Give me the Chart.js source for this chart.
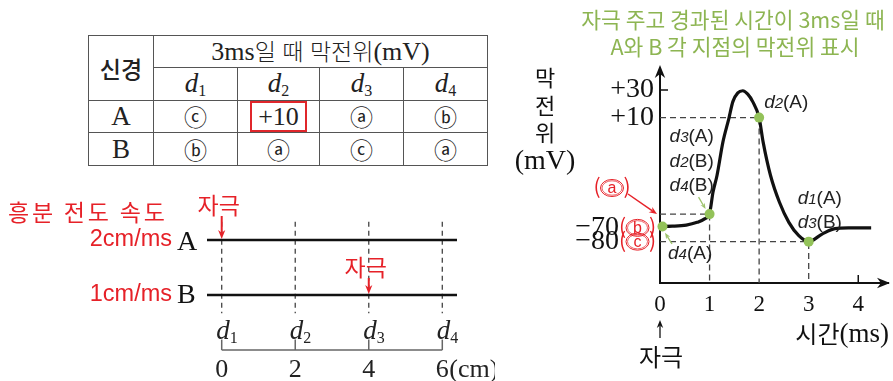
<!DOCTYPE html>
<html lang="ko">
<head>
<meta charset="utf-8">
<title>흥분 전도와 막전위</title>
<script src="https://cdn.jsdelivr.net/npm/chart.js@4.4.1/dist/chart.umd.min.js"></script>
<style>
  html, body { margin: 0; padding: 0; background: #fff; }
  body { position: relative; width: 893px; height: 381px; overflow: hidden; }
  canvas { position: absolute; }
  #nerveCanvas { left: 0; top: 180px; }
  #mpCanvas { left: 495px; top: 0; }
  #resultTable { position: absolute; left: 88px; top: 35px; width: 399px; border-collapse: collapse; table-layout: fixed; color: #222; font-family: "Liberation Serif", serif; }
  #resultTable td { border: 1.5px solid #555; text-align: center; vertical-align: middle; padding: 0; line-height: 1; }
  .kr { font-family: "Noto Sans CJK KR", sans-serif; }
  .circ { font-family: "Noto Sans CJK KR", sans-serif; font-size: 23px; }
  .site { font-size: 27px; }
  .site sub { font-size: 16px; vertical-align: -4px; }
  .hot { display: inline-block; width: 53px; height: 27px; line-height: 28px; border: 2px solid #e0262b; font-size: 26px; }
</style>
</head>
<body>
<table id="resultTable"></table>
<canvas id="nerveCanvas" width="495" height="201"></canvas>
<canvas id="mpCanvas" width="398" height="381"></canvas>
<script>
// 신경 A, B의 지점(cm)과 흥분 전도 속도
const sitePositions = [0, 2, 4, 6];
const siteNames = ['1', '2', '3', '4'];
const nerveNames = ['A', 'B'];
const nerveLevels = [2, 1];
const nerveSpeeds = ['2cm/ms', '1cm/ms'];
const stimulusSite = [0, 4];

// 3ms일 때 막전위 표
const potentialsA = ['ⓒ', '+10', 'ⓐ', 'ⓑ'];
const potentialsB = ['ⓑ', 'ⓐ', 'ⓒ', 'ⓐ'];

// 막전위 변화 곡선 (ms, mV)
const timeMs =      [0,   0.25, 0.53, 0.75, 0.9,   1.0,   1.07, 1.15, 1.27, 1.39, 1.47, 1.57, 1.67, 1.77, 1.87, 2.0, 2.08, 2.23, 2.41,  2.6, 2.8,   3.0, 3.27,  3.53,  3.8,  4.26];
const potentialMv = [-69, -68.8, -68, -66,  -63.5, -59.5, -44,  -32,  -7.6, 9.5,  21.6, 28,   29.5, 27,   21.6, 10,  -7.6, -32,  -51.4, -66, -75.7, -80, -74.5, -70.5, -70, -70];

// 3ms일 때 각 지점의 막전위 (녹색 점, 점선)
const markTimes = [0.05, 1, 2, 3];
const markValues = [-69, -60, 10, -80];
const guideTimes = [1, 2, 3];
const guideValues = [-60, 10, -80];
const xTickValues = [0, 1, 2, 3, 4];
const yTickValues = [30, 10, -70, -80];
const yTickText = ['+30', '+10', '−70', '−80'];
const yRedMarks = ['', '', 'b', 'c'];

const RED = '#e62128';
const GREEN = '#8db552';
const DOT = '#93c259';
const KR = '"Noto Sans CJK KR", sans-serif';
const SERIF = '"Liberation Serif", serif';
const SANS = '"Liberation Sans", Arial, sans-serif';

// Table
const table = document.getElementById('resultTable');
const colW = [65, 84, 82, 84, 84];
let html = '<colgroup>' + colW.map(w => `<col style="width:${w}px">`).join('') + '</colgroup>';
html += `<tr style="height:32px"><td rowspan="2" class="kr" style="font-size:23px;font-weight:500">신경</td>` +
        `<td colspan="4" style="font-size:26px">3ms<span class="kr" style="font-size:23px;font-weight:300">일 때 막전위</span>(mV)</td></tr>`;
html += '<tr style="height:33px">' + siteNames.map(n => `<td class="site"><i>d</i><sub>${n}</sub></td>`).join('') + '</tr>';
[potentialsA, potentialsB].forEach((row, r) => {
    html += `<tr style="height:${r ? 33 : 32}px"><td style="font-size:27px">${nerveNames[r]}</td>` +
        row.map(v => v.startsWith('+') ? `<td><span class="hot">${v}</span></td>` : `<td class="circ">${v}</td>`).join('') + '</tr>';
});
table.innerHTML = html;

function arrow(ctx, x1, y1, x2, y2, color, width, head) {
    const a = Math.atan2(y2 - y1, x2 - x1);
    const c = Math.cos(a), s = Math.sin(a);
    ctx.save();
    ctx.strokeStyle = color; ctx.fillStyle = color; ctx.lineWidth = width;
    ctx.beginPath(); ctx.moveTo(x1, y1); ctx.lineTo(x2 - c * head * 0.7, y2 - s * head * 0.7); ctx.stroke();
    ctx.beginPath();
    ctx.moveTo(x2, y2);
    ctx.lineTo(x2 - head * c + head * 0.4 * s, y2 - head * s - head * 0.4 * c);
    ctx.lineTo(x2 - head * 0.7 * c, y2 - head * 0.7 * s);
    ctx.lineTo(x2 - head * c - head * 0.4 * s, y2 - head * s + head * 0.4 * c);
    ctx.closePath(); ctx.fill();
    ctx.restore();
}

// red "(ⓐ)" mark with an oval ring, centred at cx, cy
function redMark(ctx, cx, cy, letter) {
    ctx.save();
    ctx.fillStyle = RED; ctx.strokeStyle = RED;
    ctx.textBaseline = 'middle'; ctx.textAlign = 'center';
    ctx.font = `21px ${KR}`;
    ctx.fillText('(', cx - 15, cy - 1);
    ctx.fillText(')', cx + 15, cy - 1);
    ctx.lineWidth = 1;
    ctx.beginPath(); ctx.ellipse(cx, cy, 11.5, 8.5, 0, 0, Math.PI * 2); ctx.stroke();
    ctx.lineWidth = 0.7;
    ctx.beginPath(); ctx.ellipse(cx, cy, 10, 7.2, 0, 0, Math.PI * 2); ctx.stroke();
    ctx.font = `16px ${SANS}`;
    ctx.fillText(letter, cx, cy + 0.5);
    ctx.restore();
}

const line = (data, color, width, dash) => ({
    data, showLine: true, borderColor: color, borderWidth: width, borderDash: dash || [],
    pointRadius: 0, clip: false
});

// Nerve diagram
const nerveDatasets = [];
nerveLevels.forEach(lv => nerveDatasets.push(line([{ x: -0.4, y: lv }, { x: 6.4, y: lv }], '#111', 2.5)));
sitePositions.forEach(p => {
    nerveDatasets.push(line([{ x: p, y: 2.33 }, { x: p, y: 0.67 }], '#444', 1.3, [5, 4]));
    nerveDatasets.push(line([{ x: p, y: 0 }, { x: p, y: 0.19 }], '#666', 1.5));
});
nerveDatasets.push(line([{ x: sitePositions[0], y: 0 }, { x: sitePositions[sitePositions.length - 1], y: 0 }], '#666', 1.5));

const nerveText = {
    id: 'nerveText',
    afterDraw(chart) {
        const { ctx, scales: { x, y } } = chart;
        ctx.save();
        ctx.textBaseline = 'middle';
        ctx.fillStyle = RED;
        ctx.font = `23px ${KR}`;
        ctx.textAlign = 'left';
        ctx.letterSpacing = '2.8px';
        ctx.fillText('흥분 전도 속도', 8, 32);
        ctx.letterSpacing = '0px';
        nerveNames.forEach((n, i) => {
            const yy = y.getPixelForValue(nerveLevels[i]);
            ctx.fillStyle = RED; ctx.font = `23.5px ${SANS}`; ctx.textAlign = 'right';
            ctx.fillText(nerveSpeeds[i], 172, yy);
            ctx.fillStyle = '#111'; ctx.font = `28px ${SERIF}`; ctx.textAlign = 'left';
            ctx.fillText(n, 177, yy + (i ? 1 : 3));
            // 자극
            const sx = x.getPixelForValue(stimulusSite[i]);
            ctx.fillStyle = RED; ctx.font = `23px ${KR}`; ctx.textAlign = 'center';
            const ty = i ? yy - 28 : yy - 35;
            ctx.fillText('자극', sx - 3, ty);
            arrow(ctx, sx, ty + 11, sx, yy - 1, RED, 2, 9);
        });
        ctx.fillStyle = '#222';
        sitePositions.forEach((p, i) => {
            const px = x.getPixelForValue(p);
            ctx.font = `italic 27px ${SERIF}`; ctx.textAlign = 'right';
            ctx.fillText('d', px + 8, y.getPixelForValue(0.33));
            ctx.font = `16px ${SERIF}`; ctx.textAlign = 'left';
            ctx.fillText(siteNames[i], px + 8, y.getPixelForValue(0.33) + 7);
            ctx.font = `26px ${SERIF}`; ctx.textAlign = 'center';
            ctx.fillText(String(p), px, y.getPixelForValue(-0.36));
            if (i === sitePositions.length - 1) {
                ctx.textAlign = 'left';
                ctx.fillText('(cm)', px + 7, y.getPixelForValue(-0.36));
            }
        });
        ctx.restore();
    }
};

new Chart(document.getElementById('nerveCanvas'), {
    type: 'scatter',
    data: { datasets: nerveDatasets },
    options: {
        responsive: false, animation: false, devicePixelRatio: 1,
        layout: { padding: { left: 207, right: 38, top: 5, bottom: 3.5 } },
        plugins: { legend: { display: false }, tooltip: { enabled: false } },
        scales: {
            x: { type: 'linear', min: -0.4, max: 6.4, display: false },
            y: { type: 'linear', min: -0.5, max: 3.0, display: false }
        }
    },
    plugins: [nerveText]
});

// Membrane potential chart
const mpDatasets = [
    Object.assign(line(markTimes.map((t, i) => ({ x: t, y: markValues[i] })), DOT, 0), {
        showLine: false, pointRadius: 5, pointBackgroundColor: DOT, pointBorderWidth: 0, order: 0
    }),
    Object.assign(line(timeMs.map((t, i) => ({ x: t, y: potentialMv[i] })), '#111', 3.2), {
        cubicInterpolationMode: 'monotone', order: 1
    })
];
guideTimes.forEach((t, i) => {
    mpDatasets.push(Object.assign(line([{ x: 0, y: guideValues[i] }, { x: t, y: guideValues[i] }, { x: t, y: -110 }], '#444', 1.3, [6, 4]), { order: 2 }));
});

function siteLabel(ctx, x, y, num, nerve) {
    ctx.textAlign = 'left';
    ctx.font = `italic 19px ${SANS}`;
    ctx.fillText('d', x, y);
    x += ctx.measureText('d').width;
    ctx.font = `italic 15px ${SANS}`;
    ctx.fillText(num, x, y + 1);
    x += ctx.measureText(num).width;
    ctx.font = `19px ${SANS}`;
    ctx.fillText(`(${nerve})`, x, y);
}

const mpFigure = {
    id: 'mpFigure',
    beforeDatasetsDraw(chart) {
        const { ctx, scales: { x, y } } = chart;
        const x0 = x.getPixelForValue(0), yb = y.getPixelForValue(-110);
        arrow(ctx, x0, yb, x0, y.top - 3, '#111', 2, 13);
        arrow(ctx, x.right - 10, yb, x.right + 2, yb, '#111', 2, 13);
        ctx.save();
        ctx.strokeStyle = '#111'; ctx.lineWidth = 1.5;
        ctx.beginPath();
        ctx.moveTo(x0, y.getPixelForValue(30)); ctx.lineTo(x0 + 8, y.getPixelForValue(30));
        ctx.moveTo(x.getPixelForValue(4), yb); ctx.lineTo(x.getPixelForValue(4), yb - 8);
        ctx.stroke();
        ctx.restore();
    },
    afterDraw(chart) {
        const { ctx, scales: { x, y } } = chart;
        const x0 = x.getPixelForValue(0);
        ctx.save();
        ctx.textBaseline = 'middle';
        // title
        ctx.fillStyle = GREEN; ctx.font = `21.5px ${KR}`; ctx.textAlign = 'center';
        ctx.fillText('자극 주고 경과된 시간이 3ms일 때', x0 + 73, 20);
        ctx.fillText('A와 B 각 지점의 막전위 표시', x0 + 75, 47);
        // y axis title
        ctx.fillStyle = '#111'; ctx.font = `22px ${KR}`;
        ['막', '전', '위'].forEach((c, i) => ctx.fillText(c, x0 - 115, 78 + i * 27.5));
        ctx.font = `28px ${SERIF}`;
        ctx.fillText('(mV)', x0 - 115, 162);
        // y tick labels
        yTickValues.forEach((v, i) => {
            const py = y.getPixelForValue(v);
            ctx.fillStyle = '#111'; ctx.font = `28px ${SERIF}`; ctx.textAlign = 'right';
            ctx.fillText(yTickText[i], yRedMarks[i] ? x0 - 41 : x0 - 6, py);
            if (yRedMarks[i]) redMark(ctx, x0 - 22.5, py, yRedMarks[i]);
        });
        redMark(ctx, x0 - 48, 188, 'a');
        arrow(ctx, x0 - 32, 194, x0 - 3, y.getPixelForValue(-60), RED, 1.5, 8);
        // x axis title and stimulus
        ctx.fillStyle = '#111'; ctx.textAlign = 'right';
        ctx.font = `27px ${SERIF}`;
        const ms = '(ms)';
        ctx.fillText(ms, x.right + 1, 335);
        const msW = ctx.measureText(ms).width;
        ctx.font = `24px ${KR}`;
        ctx.fillText('시간', x.right + 1 - msW, 334);
        arrow(ctx, x0, 338, x0, 320, '#111', 1.3, 8);
        ctx.textAlign = 'center'; ctx.font = `24px ${KR}`;
        ctx.fillText('자극', x0 + 1, 357);
        // site labels
        ctx.fillStyle = '#222';
        const p1 = x.getPixelForValue(1), p2 = x.getPixelForValue(2), p3 = x.getPixelForValue(3);
        siteLabel(ctx, p2 + 5, y.getPixelForValue(10) - 15, '2', 'A');
        siteLabel(ctx, p1 - 40, y.getPixelForValue(-60) - 77, '3', 'A');
        siteLabel(ctx, p1 - 40, y.getPixelForValue(-60) - 52, '2', 'B');
        siteLabel(ctx, p1 - 40, y.getPixelForValue(-60) - 28, '4', 'B');
        siteLabel(ctx, p3 - 11, y.getPixelForValue(-80) - 43, '1', 'A');
        siteLabel(ctx, p3 - 11, y.getPixelForValue(-80) - 19, '3', 'B');
        siteLabel(ctx, x0 + 8, y.getPixelForValue(-70) + 26, '4', 'A');
        arrow(ctx, p1 - 11, y.getPixelForValue(-60) - 17, p1 - 4, y.getPixelForValue(-60) - 5, '#9cc26a', 1.3, 6);
        arrow(ctx, x0 + 12, y.getPixelForValue(-70) + 16, x0 + 5, y.getPixelForValue(-70) + 5, '#9cc26a', 1.3, 6);
        ctx.restore();
    }
};

new Chart(document.getElementById('mpCanvas'), {
    type: 'scatter',
    data: { datasets: mpDatasets },
    options: {
        responsive: false, animation: false, devicePixelRatio: 1,
        layout: { padding: { left: 165, right: 3, top: 68, bottom: 0 } },
        plugins: { legend: { display: false }, tooltip: { enabled: false } },
        scales: {
            x: {
                type: 'linear', min: 0, max: 4.6, position: 'bottom',
                grid: { display: false, drawTicks: false },
                border: { display: true, color: '#111', width: 2 },
                ticks: { color: '#111', padding: 8, font: { family: 'Liberation Serif', size: 23 } },
                afterBuildTicks: s => { s.ticks = xTickValues.map(v => ({ value: v })); },
                afterFit: s => { s.height = 98; }
            },
            y: { type: 'linear', min: -110, max: 46, display: false }
        }
    },
    plugins: [mpFigure]
});
</script>
</body>
</html>
